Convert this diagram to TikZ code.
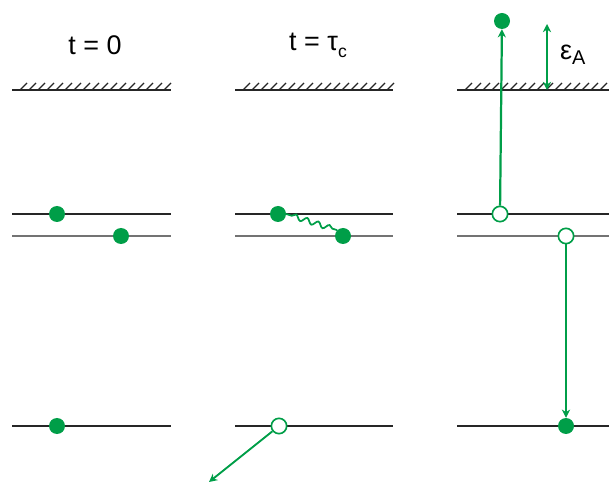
\documentclass[tikz,border=0pt]{standalone}
\usepackage{fontspec}
\setmainfont{Liberation Sans}
\usetikzlibrary{decorations.pathmorphing,arrows.meta}
\definecolor{carriergreen}{RGB}{0,158,72}
\tikzset{
  upper/.style={draw=black!85, line width=1.7pt},
  lower/.style={draw=black!55, line width=0.9pt},
  surface/.style={draw=black!85, line width=1.8pt},
  hatch/.style={draw=black!85, line width=1.1pt},
  electron/.style={circle, fill=carriergreen, inner sep=0pt, minimum size=0.48cm},
  hole/.style={circle, draw=carriergreen, fill=white, line width=1.4pt, inner sep=0pt, minimum size=0.46cm},
  jump/.style={draw=carriergreen, -{Stealth[length=7pt,width=7pt]}},
  title/.style={font=\fontsize{23}{26}\selectfont}
}
\begin{document}
\begin{tikzpicture}[x=0.03cm, y=-0.03cm]
  \useasboundingbox (0,0) rectangle (609,483);
  % surface lines with hatching
  \foreach \xa/\xb in {12/171, 235/393, 457/609} {
    \draw[surface] (\xa,90) -- (\xb,90);
    \foreach \k in {0,...,16}
      \draw[hatch] (\xa+8+\k*9,90) -- ++(7,-7);
  }
  % levels
  \foreach \xa/\xb in {12/171, 235/393, 457/609} {
    \draw[upper] (\xa,214) -- (\xb,214);
    \draw[lower] (\xa,236) -- (\xb,236);
    \draw[upper] (\xa,426) -- (\xb,426);
  }
  % titles
  \node[title] (tzero) at (95,45) {t = 0};
  \node[title] (ttau) at (318,45) {t = τ\raisebox{-0.5ex}{\fontsize{15}{17}\selectfont c}};
  % t = 0
  \node[electron] (ea) at (57,214) {};
  \node[electron] (eb) at (121,236) {};
  \node[electron] (ec) at (57,426) {};
  % t = tau_c
  \node[electron] (fa) at (278,214) {};
  \node[electron] (fb) at (343,236) {};
  \node[hole] (hc) at (279,426) {};
  \coordinate (escape) at (209,482);
  \draw[carriergreen, line width=1.5pt, decorate, decoration={snake, amplitude=2.2pt, segment length=10pt, pre length=5pt, post length=4pt}]
    (fa.east) -- (fb.north west);
  \draw[jump, line width=1.6pt] (hc) -- (escape);
  % third column
  \node[hole] (ha) at (500,214) {};
  \node[electron] (gtop) at (502,21) {};
  \node[hole] (hb) at (566,236) {};
  \node[electron] (gbot) at (566,426) {};
  \draw[jump, line width=1.9pt] (ha) -- (gtop);
  \draw[jump, line width=1.1pt] (hb) -- (gbot);
  \coordinate (atop) at (547,24);
  \coordinate (abot) at (547,90);
  \draw[draw=carriergreen, line width=1.6pt, {Stealth[length=7pt,width=7pt]}-{Stealth[length=7pt,width=7pt]}] (atop) -- (abot);
  \node[title, anchor=west] (eps) at (556,55) {ε\raisebox{-0.35ex}{\fontsize{17}{19}\selectfont A}};
\end{tikzpicture}
\end{document}
